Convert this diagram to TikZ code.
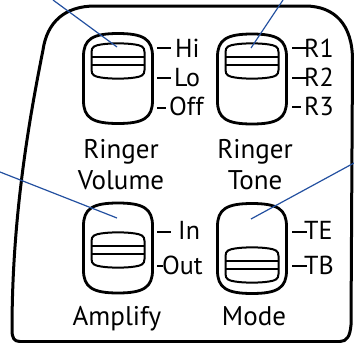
\documentclass[tikz,border=0pt]{standalone}
\usepackage{fontspec}
\setmainfont{PT Sans}
\definecolor{leaderblue}{RGB}{35,80,160}
\tikzset{
  panel/.style={line width=3pt, line join=round},
  body/.style={line width=2.8pt},
  knob/.style={line width=2pt},
  tick/.style={line width=2.6pt},
  leader/.style={leaderblue, line width=1.2pt},
  setting/.style={anchor=base west, inner sep=0pt, font=\fontsize{26}{30}\selectfont},
  title/.style={inner sep=0pt, align=center, font=\fontsize{27}{31}\selectfont}
}
\begin{document}
\begin{tikzpicture}[x=1pt, y=-1pt]
    \useasboundingbox (0,0) rectangle (354,343);
    % Housing
    \draw[panel] (20,341.5) -- (340,341.5) .. controls (347,341.5) and (350,336) .. (351,325)
        -- (352.5,60) .. controls (352.5,25) and (335,6) .. (305,6) -- (95,6)
        .. controls (65,6) and (47,22) .. (43,50) .. controls (28,125) and (12,220) .. (12,330)
        .. controls (12,338) and (14,341.5) .. (20,341.5) -- cycle;

    % Switches: centre x / centre y / slider offset
    \foreach \sx/\sy/\k in {118/78.5/-17.5, 252/79/-18, 118/248/2, 252/248.5/16.5} {
        \begin{scope}[shift={(\sx,\sy)}]
            \draw[body] (-34.5,-22) .. controls (-34.5,-39) and (-26,-45) .. (0,-45)
                .. controls (26,-45) and (34.5,-39) .. (34.5,-22) -- (34.5,22)
                .. controls (34.5,39) and (26,45) .. (0,45)
                .. controls (-26,45) and (-34.5,39) .. (-34.5,22) -- cycle;
            \begin{scope}[shift={(0,\k)}]
                \draw[knob] (-26.5,-9) .. controls (-26.5,-14.5) and (-23,-15.5) .. (-17,-16.5)
                    .. controls (-8,-18) and (8,-18) .. (17,-16.5)
                    .. controls (23,-15.5) and (26.5,-14.5) .. (26.5,-9) -- (26.5,9)
                    .. controls (26.5,14.5) and (23,15.5) .. (17,16.5)
                    .. controls (8,18) and (-8,18) .. (-17,16.5)
                    .. controls (-23,15.5) and (-26.5,14.5) .. (-26.5,9) -- cycle;
                \draw[knob] (-26.5,-4) -- (26.5,-4) (-26.5,4) -- (26.5,4);
            \end{scope}
        \end{scope}
    }

    % Ticks
    \draw[tick] (157,48) -- (171,48) (157,78) -- (171,78) (157,108) -- (166,108);
    \draw[tick] (292,48) -- (307,48) (292,78) -- (307,78) (292,107) -- (301,107);
    \draw[tick] (157,232) -- (171,232) (157,266) -- (163,266);
    \draw[tick] (292,232) -- (307,232) (292,266) -- (307,266);

    % Settings
    \node[setting] (hi) at (175,57) {Hi};
    \node[setting] (lo) at (174,86) {Lo};
    \node[setting] (off) at (169,115) {Off};
    \node[setting] (rOne) at (304,57) {R1};
    \node[setting] (rTwo) at (304,86) {R2};
    \node[setting] (rThree) at (304,115) {R3};
    \node[setting] (in) at (178,239) {In};
    \node[setting] (out) at (162,274) {Out};
    \node[setting] (te) at (304,239) {TE};
    \node[setting] (tb) at (304,274) {TB};

    % Titles
    \node[title, anchor=north] (volTitle) at (121,139) {Ringer\\Volume};
    \node[title, anchor=north] (toneTitle) at (255,139) {Ringer\\Tone};
    \node[title, anchor=base] (ampTitle) at (117,325) {Amplify};
    \node[title, anchor=base] (modeTitle) at (254,325) {Mode};

    % Leaders
    \coordinate (volEnd) at (53,0); \coordinate (volTip) at (117,47);
    \coordinate (toneEnd) at (283,0); \coordinate (toneTip) at (251,48);
    \coordinate (ampEnd) at (0,172); \coordinate (ampTip) at (117,218);
    \coordinate (modeEnd) at (354,163); \coordinate (modeTip) at (251,219);
    \draw[leader] (volEnd) -- (volTip);
    \draw[leader] (toneEnd) -- (toneTip);
    \draw[leader] (ampEnd) -- (ampTip);
    \draw[leader] (modeEnd) -- (modeTip);
\end{tikzpicture}
\end{document}
